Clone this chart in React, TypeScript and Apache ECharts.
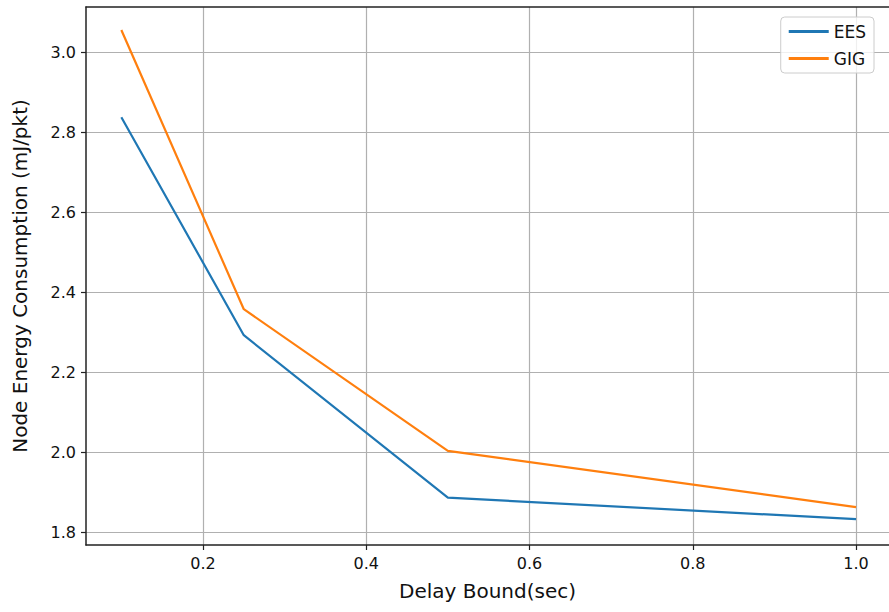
import React, { useEffect, useRef } from "react";
import * as echarts from "echarts";

const delayBound = [0.1, 0.25, 0.5, 1.0];
const eesValues = [2.837, 2.292, 1.886, 1.832];
const gigValues = [3.055, 2.357, 2.003, 1.862];
const xTicks = [0.2, 0.4, 0.6, 0.8, 1.0];
const yTicks = [1.8, 2.0, 2.2, 2.4, 2.6, 2.8, 3.0];

const FONT = "DejaVu Sans";
const X_MIN = 0.0567;
const X_MAX = 1.0404;

export default function App() {
  const ref = useRef<HTMLDivElement>(null);
  useEffect(() => {
    document.body.style.margin = "0";
    const chart = echarts.init(ref.current!, null, { renderer: "svg" });
    const axisCommon = {
      type: "value" as const,
      axisLine: { show: true, lineStyle: { color: "#222", width: 1.5 } },
      axisTick: { show: true, length: 5, lineStyle: { color: "#222", width: 1.2 } },
      splitLine: { show: true, lineStyle: { color: "#b0b0b0", width: 1.2 } },
      nameTextStyle: { fontFamily: FONT, fontSize: 20, color: "#111" },
    };
    chart.setOption({
      animation: false,
      backgroundColor: "#fff",
      grid: { left: 86, top: 7, right: 0, bottom: 612 - 545, containLabel: false },
      xAxis: [
        {
          ...axisCommon,
          min: X_MIN,
          max: X_MAX,
          name: "Delay Bound(sec)",
          nameLocation: "middle",
          nameGap: 36,
          axisTick: { ...axisCommon.axisTick, customValues: xTicks },
          axisLabel: {
            customValues: xTicks,
            formatter: (v: number) => v.toFixed(1),
            fontFamily: FONT,
            fontSize: 16,
            color: "#111",
            margin: 10,
          },
        },
        {
          type: "value",
          position: "top",
          min: X_MIN,
          max: X_MAX,
          axisLine: { show: true, lineStyle: { color: "#222", width: 1.5 } },
          axisTick: { show: false },
          axisLabel: { show: false },
          splitLine: { show: false },
        },
      ],
      yAxis: {
        ...axisCommon,
        min: 1.7675,
        max: 3.1125,
        name: "Node Energy Consumption (mJ/pkt)",
        nameLocation: "middle",
        nameGap: 56,
        axisTick: { ...axisCommon.axisTick, customValues: yTicks },
        axisLabel: {
          customValues: yTicks,
          formatter: (v: number) => v.toFixed(1),
          fontFamily: FONT,
          fontSize: 16,
          color: "#111",
          margin: 10,
        },
      },
      legend: {
        orient: "vertical",
        right: 15,
        top: 17,
        padding: [6, 8, 6, 8],
        itemGap: 10,
        itemWidth: 40,
        itemHeight: 3,
        icon: "rect",
        backgroundColor: "rgba(255,255,255,0.8)",
        borderColor: "#cccccc",
        borderWidth: 1,
        borderRadius: 4,
        textStyle: { fontFamily: FONT, fontSize: 17, color: "#111" },
        data: ["EES", "GIG"],
      },
      series: [
        {
          name: "EES",
          type: "line",
          data: delayBound.map((x, i) => [x, eesValues[i]]),
          symbol: "none",
          lineStyle: { color: "#1f77b4", width: 2.2 },
          itemStyle: { color: "#1f77b4" },
        },
        {
          name: "GIG",
          type: "line",
          data: delayBound.map((x, i) => [x, gigValues[i]]),
          symbol: "none",
          lineStyle: { color: "#ff7f0e", width: 2.2 },
          itemStyle: { color: "#ff7f0e" },
        },
      ],
    });
    return () => chart.dispose();
  }, []);
  return <div ref={ref} style={{ width: 889, height: 612 }} />;
}
